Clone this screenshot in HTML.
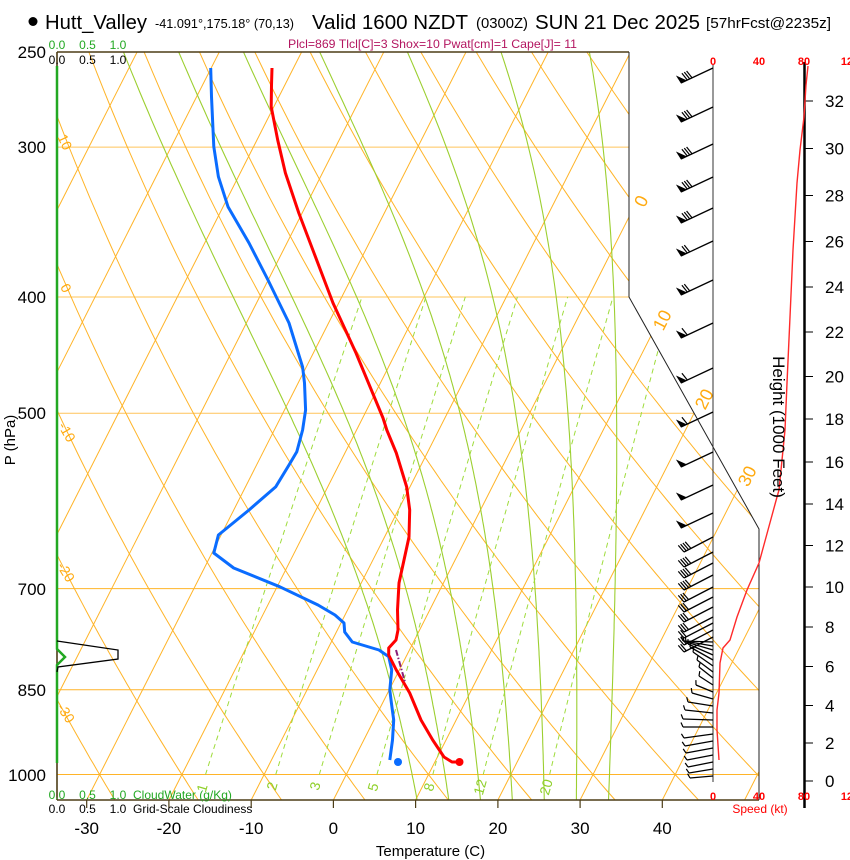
<!DOCTYPE html>
<html><head><meta charset="utf-8"><title>Skew-T Hutt_Valley</title>
<style>
html,body{margin:0;padding:0;background:#fff;width:850px;height:860px;overflow:hidden}
svg{display:block}
text{font-family:"Liberation Sans",Arial,Helvetica,sans-serif}
</style></head><body>
<svg id="sv" xmlns="http://www.w3.org/2000/svg" width="850" height="860" viewBox="0 0 850 860">
<rect width="850" height="860" fill="#fff"/>
<defs><clipPath id="cp"><polygon points="57,52 629,52 629,297 759,529 759,800 57,800"/></clipPath></defs>

<g clip-path="url(#cp)" fill="none">
 <g stroke="#ffb428" stroke-width="1">
  <line x1="57" y1="147.1" x2="760" y2="147.1" stroke="#ffc45a"/>
  <line x1="57" y1="297" x2="760" y2="297" stroke="#ffc45a"/>
  <line x1="57" y1="413.3" x2="760" y2="413.3" stroke="#ffc45a"/>
  <line x1="57" y1="588.6" x2="760" y2="588.6"/>
  <line x1="57" y1="689.8" x2="760" y2="689.8"/>
  <line x1="57" y1="774.5" x2="760" y2="774.5"/>
  <line x1="-242.2" y1="800" x2="137.1" y2="52"/>
  <line x1="-160" y1="800" x2="219.3" y2="52"/>
  <line x1="-77.8" y1="800" x2="301.6" y2="52"/>
  <line x1="4.5" y1="800" x2="383.8" y2="52"/>
  <line x1="86.7" y1="800" x2="466" y2="52"/>
  <line x1="169" y1="800" x2="548.2" y2="52"/>
  <line x1="251.2" y1="800" x2="630.5" y2="52"/>
  <line x1="333.4" y1="800" x2="712.7" y2="52"/>
  <line x1="415.6" y1="800" x2="794.9" y2="52"/>
  <line x1="497.9" y1="800" x2="877.2" y2="52"/>
  <line x1="580.1" y1="800" x2="959.4" y2="52"/>
  <line x1="662.3" y1="800" x2="1041.6" y2="52"/>
  <line x1="744.6" y1="800" x2="1123.9" y2="52"/>
 </g>
 <g id="bg"></g>
</g>

<!-- frame -->
<g fill="none">
 <line x1="57" y1="52" x2="629" y2="52" stroke="#4d3d17" stroke-width="1.6"/>
 <line x1="57" y1="800" x2="759" y2="800" stroke="#4d3d17" stroke-width="1.6"/>
 <line x1="57" y1="52" x2="57" y2="800" stroke="#4d3d17" stroke-width="1.6"/>
 <polyline points="629,52 629,297 759,529 759,800" stroke="#222" stroke-width="1"/>
 <g stroke="#4d3d17" stroke-width="1.2">
  <line x1="86.7" y1="800" x2="86.7" y2="808"/>
  <line x1="168.9" y1="800" x2="168.9" y2="808"/>
  <line x1="251.2" y1="800" x2="251.2" y2="808"/>
  <line x1="333.4" y1="800" x2="333.4" y2="808"/>
  <line x1="415.6" y1="800" x2="415.6" y2="808"/>
  <line x1="497.9" y1="800" x2="497.9" y2="808"/>
  <line x1="580.1" y1="800" x2="580.1" y2="808"/>
  <line x1="662.3" y1="800" x2="662.3" y2="808"/>
 </g>
</g>

<!-- cloud profiles -->
<polyline points="57,66 57,649 65,657 57,665 57,763" stroke="#22a822" stroke-width="2.5" fill="none"/>
<polyline points="57,641 118,650 118,659 58,667 57,672" stroke="#000" stroke-width="1.3" fill="none"/>

<!-- sounding -->
<polyline fill="none" stroke="#0a6cff" stroke-width="3" stroke-linejoin="round" points="210.7,68 211.5,96.7 213.8,146.7 218.4,176.7 228,206.7 249,243 268,280 289,323 302.6,367 304.5,383 305.6,410 302.6,430 296.8,451.7 289,465 275.8,486.7 249,510 218.4,535 213.8,553 233.7,568 279.6,586.7 318,605 335,615 344,623 344.7,632 352.3,642 379,650 388.7,656.7 391.7,670 389.8,690 391.4,703 393.7,720 392.5,740 389.8,760"/>
<polyline fill="none" stroke="#ff0000" stroke-width="3" stroke-linejoin="round" points="272,68 271.5,85 271.2,106.7 277.7,140 285.4,173 298.8,213 314,253 333,303 356,353 383,418 386.8,430 396.3,453 406.7,487 409.7,510 409,537 404,560 399,583 397.5,610 398,630 396,640 388.7,648 388.7,655 396.3,670 409.7,693 421,720 432.7,740 444,757 452,762 459.5,762"/>
<line x1="396" y1="650" x2="405" y2="682" stroke="#8a1f78" stroke-width="2" stroke-dasharray="6,2,1.5,2"/>
<circle cx="459.5" cy="762" r="4" fill="#ff0000"/>
<circle cx="398" cy="762" r="4" fill="#0a6cff"/>

<!-- wind / height panel -->
<line x1="713" y1="65" x2="713" y2="782" stroke="#333" stroke-width="1"/>
<line x1="804.5" y1="62" x2="804.5" y2="808" stroke="#000" stroke-width="2.5"/>
<g stroke="#000" stroke-width="1">
 <line x1="804" y1="781" x2="813" y2="781"/><line x1="804" y1="743" x2="813" y2="743"/>
 <line x1="804" y1="705.5" x2="813" y2="705.5"/><line x1="804" y1="666.5" x2="813" y2="666.5"/>
 <line x1="804" y1="627" x2="813" y2="627"/><line x1="804" y1="587" x2="813" y2="587"/>
 <line x1="804" y1="545.5" x2="813" y2="545.5"/><line x1="804" y1="504" x2="813" y2="504"/>
 <line x1="804" y1="462" x2="813" y2="462"/><line x1="804" y1="419" x2="813" y2="419"/>
 <line x1="804" y1="376.5" x2="813" y2="376.5"/><line x1="804" y1="332" x2="813" y2="332"/>
 <line x1="804" y1="287" x2="813" y2="287"/><line x1="804" y1="241.5" x2="813" y2="241.5"/>
 <line x1="804" y1="195.5" x2="813" y2="195.5"/><line x1="804" y1="148.5" x2="813" y2="148.5"/>
 <line x1="804" y1="101" x2="813" y2="101"/>
</g>
<polyline fill="none" stroke="#ff2a2a" stroke-width="1.4" points="808,66 806,85 804,117 800,150 797,183 793,250 790,317 787,383 785,430 783,450 779,490 777,497 768,530 759,563 747,590 737,617 730,640 723,648 720,663 719,693 717,710 717,730 719,760"/>
<g id="barbs"></g>

<!-- title -->
<circle cx="33" cy="21.5" r="4.5" fill="#000"/>
<text x="45" y="29" font-size="20" textLength="102" lengthAdjust="spacingAndGlyphs">Hutt_Valley</text>
<text x="155" y="28" font-size="13" textLength="139" lengthAdjust="spacingAndGlyphs">-41.091°,175.18° (70,13)</text>
<text x="312" y="29" font-size="20" textLength="156" lengthAdjust="spacingAndGlyphs">Valid 1600 NZDT</text>
<text x="476" y="28" font-size="14.5" textLength="52" lengthAdjust="spacingAndGlyphs">(0300Z)</text>
<text x="535" y="29" font-size="20" textLength="165" lengthAdjust="spacingAndGlyphs">SUN 21 Dec 2025</text>
<text x="706" y="28" font-size="15" textLength="125" lengthAdjust="spacingAndGlyphs">[57hrFcst@2235z]</text>
<text x="288" y="48" font-size="12" fill="#b31660" textLength="289" lengthAdjust="spacingAndGlyphs">Plcl=869 Tlcl[C]=3 Shox=10 Pwat[cm]=1 Cape[J]= 11</text>

<!-- cloud scale labels -->
<g font-size="12" fill="#22a822" text-anchor="middle"><text x="57" y="49">0.0</text><text x="87.5" y="49">0.5</text><text x="118" y="49">1.0</text></g>
<g font-size="12" fill="#000" text-anchor="middle"><text x="57" y="64">0.0</text><text x="87.5" y="64">0.5</text><text x="118" y="64">1.0</text></g>
<g font-size="12" fill="#22a822"><text x="57" y="799" text-anchor="middle">0.0</text><text x="87.5" y="799" text-anchor="middle">0.5</text><text x="118" y="799" text-anchor="middle">1.0</text><text x="133" y="799">CloudWater (g/Kg)</text></g>
<g font-size="12" fill="#000"><text x="57" y="813" text-anchor="middle">0.0</text><text x="87.5" y="813" text-anchor="middle">0.5</text><text x="118" y="813" text-anchor="middle">1.0</text><text x="133" y="813">Grid-Scale Cloudiness</text></g>

<!-- pressure labels -->
<g font-size="17" text-anchor="end" fill="#000">
 <text x="46" y="58">250</text><text x="46" y="153">300</text><text x="46" y="303">400</text>
 <text x="46" y="419">500</text><text x="46" y="595">700</text><text x="46" y="696">850</text>
 <text x="46" y="781">1000</text>
</g>
<text transform="translate(15,440) rotate(-90)" font-size="15" text-anchor="middle">P (hPa)</text>

<!-- temperature labels -->
<g font-size="17" text-anchor="middle" fill="#000">
 <text x="86.7" y="834">-30</text><text x="168.9" y="834">-20</text><text x="251.2" y="834">-10</text>
 <text x="333.4" y="834">0</text><text x="415.6" y="834">10</text><text x="497.9" y="834">20</text>
 <text x="580.1" y="834">30</text><text x="662.3" y="834">40</text>
</g>
<text x="430.5" y="856" font-size="15" text-anchor="middle">Temperature (C)</text>

<!-- dry adiabat labels -->
<g font-size="14" fill="#ffaa10" text-anchor="middle">
 <text transform="translate(65,142) rotate(65)" dy="0.35em">10</text>
 <text transform="translate(66,288) rotate(62)" dy="0.35em">0</text>
 <text transform="translate(67,432) rotate(60)" dy="0.35em">-10</text>
 <text transform="translate(66,572) rotate(58)" dy="0.35em">-20</text>
 <text transform="translate(66,713) rotate(57)" dy="0.35em">-30</text>
</g>
<!-- isotherm labels -->
<g font-size="18" fill="#ffaa10" text-anchor="middle">
 <text transform="translate(641,201) rotate(-63)" dy="0.35em">0</text>
 <text transform="translate(662,320) rotate(-63)" dy="0.35em">10</text>
 <text transform="translate(704,399) rotate(-63)" dy="0.35em">20</text>
 <text transform="translate(747,476) rotate(-63)" dy="0.35em">30</text>
</g>
<!-- mixing ratio labels -->
<g font-size="14" fill="#8fd02a" text-anchor="middle">
 <text transform="translate(202,788) rotate(-74)" dy="0.35em">1</text>
 <text transform="translate(272,786) rotate(-74)" dy="0.35em">2</text>
 <text transform="translate(315,786) rotate(-74)" dy="0.35em">3</text>
 <text transform="translate(373,787) rotate(-74)" dy="0.35em">5</text>
 <text transform="translate(429,787) rotate(-74)" dy="0.35em">8</text>
 <text transform="translate(480,787) rotate(-74)" dy="0.35em">12</text>
 <text transform="translate(546,787) rotate(-74)" dy="0.35em">20</text>
</g>

<!-- speed labels -->
<g font-size="11" font-weight="bold" fill="#ff0000" text-anchor="middle">
 <text x="713" y="65">0</text><text x="759" y="65">40</text><text x="804" y="65">80</text><text x="850" y="65">120</text>
 <text x="713" y="800">0</text><text x="759" y="800">40</text><text x="804" y="800">80</text><text x="850" y="800">120</text>
</g>
<text x="760" y="813" font-size="12" fill="#ff0000" text-anchor="middle">Speed (kt)</text>

<!-- height labels -->
<g font-size="17" fill="#000">
 <text x="825" y="787">0</text><text x="825" y="749">2</text><text x="825" y="711.5">4</text>
 <text x="825" y="672.5">6</text><text x="825" y="633">8</text><text x="825" y="593">10</text>
 <text x="825" y="551.5">12</text><text x="825" y="510">14</text><text x="825" y="468">16</text>
 <text x="825" y="425">18</text><text x="825" y="382.5">20</text><text x="825" y="338">22</text>
 <text x="825" y="293">24</text><text x="825" y="247.5">26</text><text x="825" y="201.5">28</text>
 <text x="825" y="154.5">30</text><text x="825" y="107">32</text>
</g>
<text transform="translate(773,427) rotate(90)" font-size="17" text-anchor="middle">Height (1000 Feet)</text>
</svg>

<script>
(function(){
var NS="http://www.w3.org/2000/svg";
function yu(p){return 132.182-44.061*Math.log(p)/Math.LN10;}
function PY(p){return 800-(yu(p)+0.935)*27.24;}
function PX(T,p){return 57+(0.54*T+0.90692*yu(p)+19)*15.228;}
function mk(tag,a,par){var e=document.createElementNS(NS,tag);for(var k in a)e.setAttribute(k,a[k]);par.appendChild(e);return e;}
var bg=document.getElementById("bg");
function path(pts,stroke,w,dash){var d="";for(var i=0;i<pts.length;i++){d+=(i?"L":"M")+pts[i][0].toFixed(1)+","+pts[i][1].toFixed(1);}var a={d:d,fill:"none",stroke:stroke,"stroke-width":w};if(dash)a["stroke-dasharray"]=dash;mk("path",a,bg);}
/* dry adiabats */
for(var th=-30;th<=130;th+=10){var pts=[];for(var p=1050;p>=240;p-=10){var T=(th+273.15)*Math.pow(p/1000,0.2857)-273.15;pts.push([PX(T,p),PY(p)]);}path(pts,"#ffb428",1);}
/* moist adiabats */
function es(T){return 6.112*Math.exp(17.67*T/(T+243.5));}
function f(T,p){var Tk=T+273.15,e=es(T),rs=0.622*e/(p-e);return (287.04*Tk+2.501e6*rs)/(p*(1005.7+2.501e6*2.501e6*rs*0.622/(287.04*Tk*Tk)));}
function rk(T,p,h){var k1=f(T,p),k2=f(T+h*k1/2,p+h/2),k3=f(T+h*k2/2,p+h/2),k4=f(T+h*k3,p+h);return T+h*(k1+2*k2+2*k3+k4)/6;}
[8,12,16,20,24,28,32].forEach(function(t0){var up=[],T=t0,p=1000;up.push([PX(T,p),PY(p)]);while(p>245){T=rk(T,p,-5);p-=5;up.push([PX(T,p),PY(p)]);}var dn=[];T=t0;p=1000;while(p<1055){T=rk(T,p,5);p+=5;dn.unshift([PX(T,p),PY(p)]);}path(dn.concat(up),"#9ccf30",1.1);});
/* mixing ratio */
[1,2,3,5,8,12,20].forEach(function(w){var pts=[];for(var p=1000;p>=400;p-=25){var e=w*p/(622+w),l=Math.log(e/6.112),T=243.5*l/(17.67-l);pts.push([PX(T,p),PY(p)]);}path(pts,"#9fdc3c",1,"5,4");});
/* wind barbs */
var B=document.getElementById("barbs");
function barb(by,tx,ty,pen,nf,fl){
 var x0=713,dx=x0-tx,dy=by-ty,L=Math.sqrt(dx*dx+dy*dy),ux=dx/L,uy=dy/L,nx=uy,ny=-ux;
 mk("line",{x1:x0,y1:by,x2:tx,y2:ty,stroke:"#000","stroke-width":1.3},B);
 var s=0;
 if(pen){var ax=tx+ux*6,ay=ty+uy*6;mk("polygon",{points:tx+","+ty+" "+ax.toFixed(1)+","+ay.toFixed(1)+" "+(tx+nx*8-ux*1).toFixed(1)+","+(ty+ny*8-uy*1).toFixed(1),fill:"#000",stroke:"#000","stroke-width":0.6},B);s=7;}
 for(var i=0;i<nf;i++){var qx=tx+ux*(s+i*2.6),qy=ty+uy*(s+i*2.6);mk("line",{x1:qx.toFixed(1),y1:qy.toFixed(1),x2:(qx+nx*fl-ux*2).toFixed(1),y2:(qy+ny*fl-uy*2).toFixed(1),stroke:"#000","stroke-width":1.2},B);}
}
[[68,1,3],[107,1,3],[144,1,3],[177,1,3],[208,1,3],[241,1,2],[280,1,2],[323,1,1],[368,1,1],[412,1,1],[452,1,0],[485,1,0],[513,1,0]].forEach(function(b){barb(b[0],681,b[0]+15,b[1],b[2],8.5);});
[[537,4],[552,4],[563,4],[575,4],[587,3],[597,3],[607,3],[617,3],[623,2],[630,2],[637,2]].forEach(function(b){barb(b[0],684,b[0]+15,0,b[1],8.5);});
[[642,683,641],[646,684,641],[650,686,642],[655,688,644],[660,690,647],[666,693,652],[672,697,660],[678,699,667],[685,699,676],[692,696,685],[699,692,693],[706,688,702],[713,685,710],[720,683,719],[727,683,727],[734,684,738],[741,685,746],[748,686,753],[755,687,760],[762,688,767],[769,689,773],[776,690,778]].forEach(function(b){barb(b[0],b[1],b[2],0,1,4.5);});
})();
</script>
</body></html>
